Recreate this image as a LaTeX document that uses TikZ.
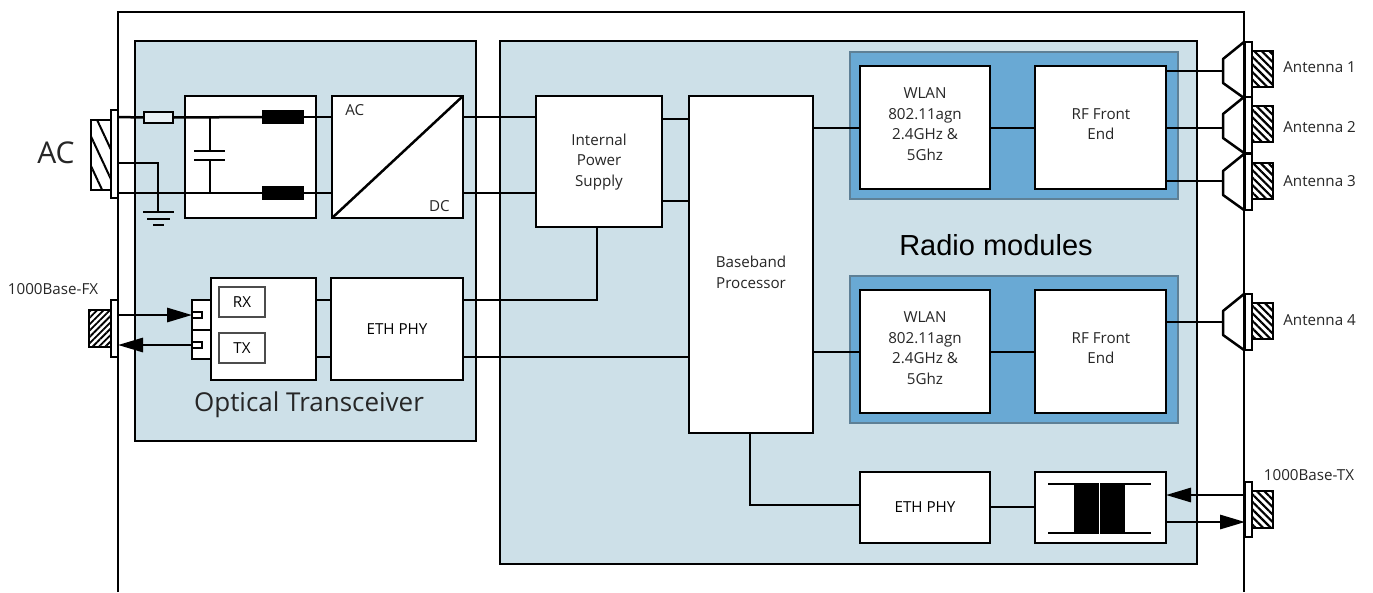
\documentclass[tikz,border=0pt]{standalone}
\usepackage{fontspec}
\setmainfont{Open Sans}
\newfontfamily\arialfont{Liberation Sans}
\usetikzlibrary{arrows.meta,patterns.meta}
\definecolor{panelblue}{HTML}{CDE0E8}
\definecolor{modblue}{HTML}{69A9D4}
\definecolor{modedge}{HTML}{5E8096}
\newlength{\pxu}
\setlength{\pxu}{0.6pt}
\tikzset{
  block/.style 2 args={draw, line width=1.5pt, fill=white, anchor=north west, outer sep=0pt, inner sep=0pt,
    align=center, minimum width=#1*\pxu, minimum height=#2*\pxu, font=\fontsize{9.1}{12.4}\selectfont},
  panel/.style 2 args={block={#1}{#2}, fill=panelblue},
  module/.style 2 args={block={#1}{#2}, fill=modblue, draw=modedge},
  solid block/.style 2 args={block={#1}{#2}, fill=black},
  inner block/.style 2 args={block={#1}{#2}, line width=0.8pt, draw=black!70},
  wire/.style={line width=1.5pt},
  label/.style={inner sep=0pt, align=center, text=black!85, font=\fontsize{9.1}{12.4}\selectfont},
  hatch wide/.style={pattern={Lines[angle=-65,distance=7.5pt,line width=1.2pt]}},
  hatch left/.style={pattern={Lines[angle=45,distance=2.7pt,line width=1.1pt]}},
  hatch right/.style={pattern={Lines[angle=-45,distance=3.2pt,line width=1.3pt]}},
}
\begin{document}
\begin{tikzpicture}[x=0.6pt, y=-0.6pt, >={Stealth[length=15pt,width=8.5pt,inset=0pt]}]
  \useasboundingbox (0,0) rectangle (1373,592);

  % Panels
  \node[panel={341}{400}] (optical) at (135,41) {};
  \node[panel={697}{523}] (radio) at (500,41) {};
  \node[module={328}{147}] (moda) at (850,52) {};
  \node[module={328}{147}] (modb) at (850,276) {};

  % Housing, open at the bottom
  \draw[wire] (118,592) -- (118,12) -- (1244,12) -- (1244,592);

  % Power path
  \node[block={131}{122}] (filter) at (185,96) {};
  \node[block={131}{122}] (acdc) at (332,96) {};
  \node[block={126}{131}] (ips) at (536,96) {};
  \node[block={124}{337}] (base) at (689,96) {};
  \node[label] (ipstext) at (599,162) {Internal\\Power\\Supply};
  \node[label] (basetext) at (751,272) {Baseband\\Processor};
  \draw[wire] (acdc.south west) -- (acdc.north east);
  \node[label, anchor=west] (acin) at (345,110) {AC};
  \node[label, anchor=east] (dcout) at (450,206) {DC};

  % Radios
  \node[block={130}{123}] (wlana) at (860,66) {};
  \node[block={131}{123}] (rfa) at (1035,66) {};
  \node[block={130}{123}] (wlanb) at (860,290) {};
  \node[block={131}{123}] (rfb) at (1035,290) {};
  \node[label] (wlanatext) at (925,124) {WLAN\\802.11agn\\2.4GHz \&\\5Ghz};
  \node[label] (rfatext) at (1101,124) {RF Front\\End};
  \node[label] (wlanbtext) at (925,348) {WLAN\\802.11agn\\2.4GHz \&\\5Ghz};
  \node[label] (rfbtext) at (1101,348) {RF Front\\End};

  % Optical side
  \node[block={19}{30}] (fxrx) at (192,300) {};
  \node[block={19}{29}] (fxtx) at (192,330) {};
  \node[block={105}{102}] (sfp) at (211,278) {};
  \node[inner block={46}{30}] (rx) at (219,287) {RX};
  \node[inner block={46}{30}] (tx) at (219,333) {TX};
  \node[block={10}{6}, line width=1.2pt] (rxport) at (192,312) {};
  \node[block={10}{6}, line width=1.2pt] (txport) at (192,342) {};
  \node[block={132}{102}] (phya) at (331,278) {ETH PHY};

  % Copper side
  \node[block={130}{71}] (phyb) at (860,472) {ETH PHY};
  \node[block={131}{71}] (trafo) at (1035,472) {};
  \node[solid block={23}{49}] (corea) at (1075,484) {};
  \node[solid block={23}{49}] (coreb) at (1101,484) {};
  \draw[wire] (1048,484) -- (corea.north west);
  \draw[wire] (coreb.north east) -- (1151,484);
  \draw[wire] (1048,533) -- (corea.south west);
  \draw[wire] (coreb.south east) -- (1151,533);

  % AC inlet
  \node[block={20}{70}, hatch wide] (acplug) at (91,120) {};
  \node[block={7}{88}] (acplate) at (111,110) {};
  \node[block={29}{11}, line width=1.1pt, fill=panelblue!45] (fuse) at (144,112) {};
  \node[solid block={40}{12}] (chokea) at (263,111) {};
  \node[solid block={40}{12}] (chokeb) at (263,187) {};
  \node[inner sep=0pt, text=black!85, font=\fontsize{18}{18}\selectfont] (aclabel) at (56,153) {AC};

  % AC wiring
  \draw[wire] (acplate.east |- 0,117) -- (fuse.west);
  \draw[wire] (fuse.east) -- (chokea.west);
  \draw[wire] (chokea.east) -- (acdc.west |- 0,117);
  \draw[wire] (acplate.east |- 0,193) -- (chokeb.west);
  \draw[wire] (chokeb.east) -- (acdc.west |- 0,193);
  \draw[wire] (acdc.east |- 0,117) -- (ips.west |- 0,117);
  \draw[wire] (acdc.east |- 0,193) -- (ips.west |- 0,193);
  \draw[wire] (ips.east |- 0,119) -- (base.west |- 0,119);
  \draw[wire] (ips.east |- 0,201) -- (base.west |- 0,201);

  % Capacitor
  \coordinate (capa) at (210,151);
  \coordinate (capb) at (210,160);
  \draw[wire] (210,117) -- (capa);
  \draw[wire] (capb) -- (210,193);
  \draw[wire] (194,151) -- (225,151);
  \draw[wire] (194,160) -- (225,160);

  % Earth
  \coordinate (earth) at (158,212);
  \draw[wire] (acplate.east |- 0,163) -| (earth);
  \draw[wire] (143,212) -- (174,212);
  \draw[wire] (147,219) -- (170,219);
  \draw[wire] (153,225) -- (164,225);

  % Data wiring
  \draw[wire] (ips.south -| 597,0) |- (phya.east |- 0,300);
  \draw[wire] (phya.east |- 0,357) -- (base.west |- 0,357);
  \draw[wire] (sfp.east |- 0,300) -- (phya.west |- 0,300);
  \draw[wire] (sfp.east |- 0,357) -- (phya.west |- 0,357);
  \draw[wire] (base.east |- 0,128) -- (wlana.west |- 0,128);
  \draw[wire] (wlana.east |- 0,128) -- (rfa.west |- 0,128);
  \draw[wire] (base.east |- 0,352) -- (wlanb.west |- 0,352);
  \draw[wire] (wlanb.east |- 0,352) -- (rfb.west |- 0,352);
  \draw[wire] (base.south -| 750,0) |- (phyb.west |- 0,505);
  \draw[wire] (phyb.east |- 0,507) -- (trafo.west |- 0,507);

  % Antennas
  \foreach \nm/\ytop/\ywire/\rf/\ylab/\num in {a/42/71/rfa/67/1, b/97/128/rfa/127/2, c/154/181/rfa/181/3, d/294/322/rfb/320/4} {
    \node[block={21}{36}, hatch right] (anthatch\nm) at (1252,\ytop+9) {};
    \node[block={7}{56}] (antplate\nm) at (1245,\ytop) {};
    \coordinate (antin\nm) at (1223,\ywire);
    \draw[wire, line join=round] (1244,\ytop) -- (1223,\ytop+17) -- (antin\nm) -- (1223,\ytop+41) -- (1244,\ytop+56);
    \draw[wire] (\rf.east |- 0,\ywire) -- (antin\nm);
    \node[label, anchor=west] (antlabel\nm) at (1283,\ylab) {Antenna \num};
  }

  % Fibre port
  \node[block={22}{37}, hatch left] (fxplug) at (89,310) {};
  \node[block={7}{57}] (fxplate) at (111,300) {};
  \node[label] (fxlabel) at (53,289) {1000Base-FX};
  \draw[wire, ->] (fxplate.east |- 0,315) -- (rxport.west);
  \draw[wire, ->] (txport.west) -- (fxplate.east |- 0,345);

  % Copper port
  \node[block={21}{37}, hatch right] (txplug) at (1252,491) {};
  \node[block={7}{55}] (txplate) at (1245,482) {};
  \node[label] (txlabel) at (1309,475) {1000Base-TX};
  \draw[wire, ->] (txplate.west |- 0,495) -- (trafo.east |- 0,495);
  \draw[wire, ->] (trafo.east |- 0,522) -- (txplate.west |- 0,522);

  % Captions
  \node[inner sep=0pt, text=black!85, font=\fontsize{15.6}{15.6}\selectfont] (opticalcap) at (309,405) {Optical Transceiver};
  \node[inner sep=0pt, font=\arialfont\fontsize{17.4}{17.4}\selectfont] (radiocap) at (996,245) {Radio modules};
\end{tikzpicture}
\end{document}
